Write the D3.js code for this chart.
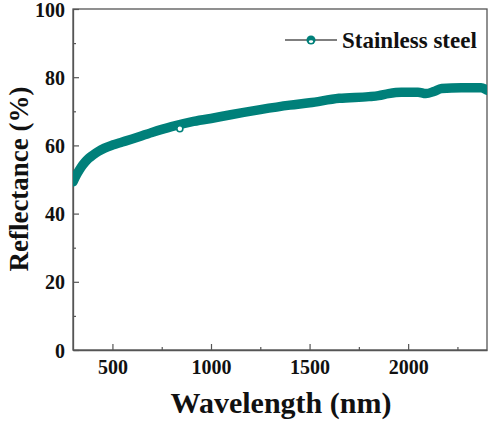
<!DOCTYPE html>
<html>
<head>
<meta charset="utf-8">
<script src="https://cdn.jsdelivr.net/npm/d3@7"></script>
<style>
  body { margin: 0; background: #fff; }
  svg { display: block; }
  svg text { font-family: "Liberation Serif", "Times New Roman", serif; font-weight: bold; }
</style>
</head>
<body>
<svg id="chart" width="488" height="421"></svg>
<script>
// reflectance spectrum
const wavelength = [300, 320, 340, 360, 380, 400, 430, 460, 500, 550, 600, 700, 800, 900, 1000,
  1100, 1250, 1400, 1500, 1650, 1800, 1850, 1900, 1965, 2050, 2090, 2130, 2170, 2270, 2370, 2400];
const reflectance = [49.3, 51.6, 53.5, 55.0, 56.2, 57.1, 58.3, 59.2, 60.1, 61.0, 61.9, 63.8, 65.5, 66.9, 67.9,
  69.0, 70.5, 71.8, 72.5, 73.8, 74.3, 74.6, 75.2, 75.6, 75.6, 75.2, 75.8, 76.7, 76.9, 76.9, 76.2];
const outlier = [{ w: 842, r: 64.9 }];
const xTicks = [500, 1000, 1500, 2000];
const xMinor = [750, 1250, 1750, 2250];
const yTicks = [0, 20, 40, 60, 80, 100];
const yMinor = [10, 30, 50, 70, 90];
const seriesName = 'Stainless steel';

const colors = { line: '#00807a', axis: '#555', text: '#111' };
const margin = { left: 73, top: 9, right: 1, bottom: 71 };
const W = 488, H = 421;
const serif = 'Liberation Serif';

const svg = d3.select('#chart');
const x = d3.scaleLinear().domain([300, 2400]).range([margin.left, W - margin.right]);
const y = d3.scaleLinear().domain([0, 100]).range([H - margin.bottom, margin.top]);

const data = wavelength.map((w, i) => ({ w, r: reflectance[i] }));

svg.append('clipPath').attr('id', 'plot')
  .append('rect')
  .attr('x', x(300)).attr('y', y(100))
  .attr('width', x(2400) - x(300)).attr('height', y(0) - y(100));

// frame
svg.append('rect')
  .attr('x', x(300)).attr('y', y(100))
  .attr('width', x(2400) - x(300)).attr('height', y(0) - y(100))
  .attr('fill', 'none').attr('stroke', colors.axis).attr('stroke-width', 1.3);

// x axis
const xAxis = svg.append('g').attr('transform', `translate(0,${y(0)})`)
  .call(d3.axisBottom(x).tickValues(xTicks).tickFormat(d3.format('d'))
    .tickSizeInner(-6).tickSizeOuter(0).tickPadding(10));
svg.append('g').attr('transform', `translate(0,${y(0)})`)
  .call(d3.axisBottom(x).tickValues(xMinor).tickSizeInner(-3).tickSizeOuter(0).tickFormat(''))
  .call(g => g.select('.domain').remove());

// y axis
const yAxis = svg.append('g').attr('transform', `translate(${x(300)},0)`)
  .call(d3.axisLeft(y).tickValues(yTicks).tickSizeInner(-6).tickSizeOuter(0).tickPadding(8));
svg.append('g').attr('transform', `translate(${x(300)},0)`)
  .call(d3.axisLeft(y).tickValues(yMinor).tickSizeInner(-3).tickSizeOuter(0).tickFormat(''))
  .call(g => g.select('.domain').remove());

svg.selectAll('.domain').attr('stroke', colors.axis).attr('stroke-width', 1.3);
svg.selectAll('.tick line').attr('stroke', colors.axis).attr('stroke-width', 1.2);
svg.selectAll('g').attr('font-family', serif);
xAxis.selectAll('text').attr('font-size', 20).attr('fill', colors.text);
yAxis.selectAll('text').attr('font-size', 20).attr('fill', colors.text).attr('dy', '0.35em');

// data band
const line = d3.line().x(d => x(d.w)).y(d => y(d.r)).curve(d3.curveMonotoneX);
svg.append('path').datum(data)
  .attr('clip-path', 'url(#plot)')
  .attr('d', line)
  .attr('fill', 'none')
  .attr('stroke', colors.line)
  .attr('stroke-width', 9.5)
  .attr('stroke-linecap', 'round')
  .attr('stroke-linejoin', 'round');

svg.selectAll('.outlier').data(outlier).join('circle')
  .attr('class', 'outlier')
  .attr('cx', d => x(d.w)).attr('cy', d => y(d.r)).attr('r', 3)
  .attr('fill', '#fff').attr('stroke', colors.line).attr('stroke-width', 1.6);

// legend
const lg = svg.append('g').attr('transform', 'translate(285,40)');
lg.append('line').attr('x1', 0).attr('x2', 52).attr('y1', 0).attr('y2', 0)
  .attr('stroke', colors.axis).attr('stroke-width', 1.3);
lg.append('circle').attr('cx', 26).attr('cy', 0).attr('r', 4.5).attr('fill', colors.line);
lg.append('ellipse').attr('cx', 26).attr('cy', 1.6).attr('rx', 2.2).attr('ry', 1.3).attr('fill', '#fff');
lg.append('text').attr('x', 57).attr('y', 8).attr('font-size', 23).attr('fill', colors.text).text(seriesName);

// axis titles
svg.append('text')
  .attr('x', 281).attr('y', 413)
  .attr('text-anchor', 'middle').attr('font-size', 30).attr('fill', colors.text)
  .text('Wavelength (nm)');
svg.append('text')
  .attr('transform', `translate(28,179) rotate(-90)`)
  .attr('text-anchor', 'middle').attr('font-size', 27).attr('fill', colors.text)
  .text('Reflectance (%)');
</script>
</body>
</html>
